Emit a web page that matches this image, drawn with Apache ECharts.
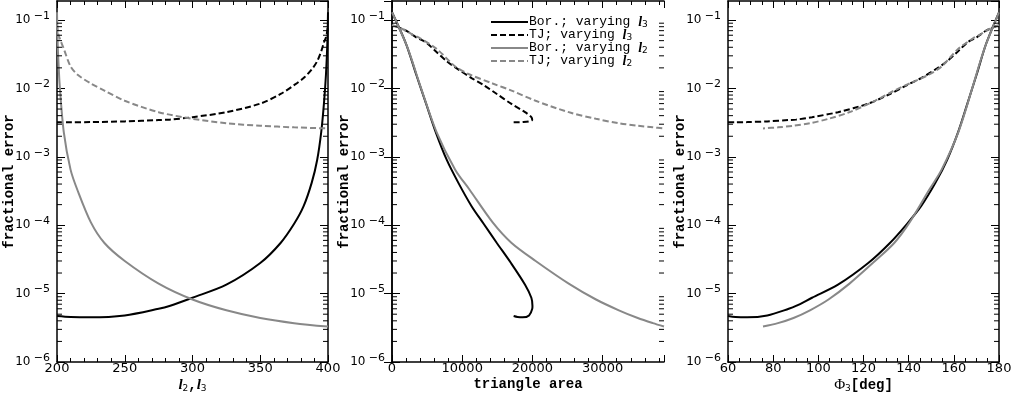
<!DOCTYPE html>
<html>
<head>
    <meta charset="utf-8">
    <title>fractional error</title>
    <script src="https://cdn.jsdelivr.net/npm/echarts@6/dist/echarts.min.js"></script>
    <style>
        * {
            margin: 0;
            padding: 0
        }

        html, body {
            width: 100%;
            height: 100%;
            background: #fff;
        }

        #main {
            width: 1014px;
            height: 396px;
        }
    </style>
</head>
<body>
<div id="main"></div>
<script type="text/javascript">
    /*-------------------- data: varying l3 (l1 = l2 = 200) --------------------*/
    var l3Vals = [200, 210, 225, 250, 275, 283, 300, 325, 350, 365, 375, 382, 388, 392, 395, 397, 398.5, 399.5, 400];
    var areaL3 = [17321, 17873, 18603, 19516, 19970, 20000, 19843, 18946, 16941, 14930, 13049, 11330, 9432, 7801, 6226, 4853, 3448, 1997, 0];
    var phiL3 = [60, 63.3, 68.5, 77.4, 86.9, 90.1, 97.2, 108.7, 122.1, 131.7, 139.3, 145.5, 151.9, 157.0, 161.9, 166.0, 170.1, 174.3, 180];
    var borL3 = [4.7e-6, 4.55e-6, 4.5e-6, 4.8e-6, 6e-6, 6.6e-6, 8.7e-6, 1.35e-5, 2.8e-5, 5.5e-5, 1.05e-4, 1.9e-4, 4.2e-4, 9e-4, 2.3e-3, 6e-3, 0.016, 0.045, 0.13];
    var tjL3 = [3.2e-3, 3.2e-3, 3.22e-3, 3.3e-3, 3.45e-3, 3.5e-3, 3.8e-3, 4.5e-3, 6.0e-3, 8.3e-3, 0.0112, 0.0142, 0.019, 0.025, 0.035, 0.047, 0.056, 0.07, 0.085];

    /*-------------------- data: varying l2 (l1 = 200, l3 = 400) --------------------*/
    var l2Vals = [200, 200.5, 201, 202, 205, 210, 215, 225, 235, 250, 275, 300, 325, 350, 375, 400];
    var areaL2 = [0, 2001, 2830, 4010, 6345, 8996, 11051, 14334, 17030, 20453, 25163, 29047, 32301, 34994, 37145, 38730];
    var phiL2 = [180, 174.3, 171.9, 168.5, 162.0, 154.6, 149.1, 140.4, 133.6, 125.1, 113.8, 104.5, 96.3, 89.0, 82.1, 75.5];
    var borL2 = [0.13, 0.045, 0.026, 0.011, 2.3e-3, 6.5e-4, 3.3e-4, 1.1e-4, 5.5e-5, 3e-5, 1.4e-5, 8.2e-6, 5.7e-6, 4.4e-6, 3.7e-6, 3.3e-6];
    var tjL2 = [0.085, 0.07, 0.062, 0.054, 0.038, 0.021, 0.016, 0.0118, 0.0093, 0.0066, 0.0045, 0.0036, 0.0031, 0.00285, 0.0027, 0.0026];

    var seriesNames = ['Bor.; varying l3', 'TJ; varying l3', 'Bor.; varying l2', 'TJ; varying l2'];

    // panels: x range, major / minor tick step
    var panels = [
        {x3: l3Vals, x2: l2Vals, min: 200, max: 400, major: 50, minor: 10, left: 57, width: 271},
        {x3: areaL3, x2: areaL2, min: 0, max: 38730, major: 10000, minor: 2000, left: 392, width: 272},
        {x3: phiL3, x2: phiL2, min: 60, max: 180, major: 20, minor: 5, left: 728, width: 271}
    ];
    var xNames = [
        '{i|l}{s|2}{m|,}{i|l}{s|3}',
        '{m|triangle area}',
        '{p|\u03a6}{s|3}{m|[deg]}'
    ];
    var yMin = 1e-6, yMax = 0.19;

    var monoFont = '"Liberation Mono", monospace';
    var labFont = '"DejaVu Sans", sans-serif';
    var nameRich = {
        m: {fontFamily: monoFont, fontWeight: 'bold', fontSize: 14, color: '#000'},
        i: {fontFamily: '"Liberation Serif", serif', fontStyle: 'italic', fontWeight: 'bold', fontSize: 15, color: '#000'},
        p: {fontFamily: '"Liberation Serif", serif', fontSize: 15, color: '#000'},
        s: {fontFamily: labFont, fontSize: 9, color: '#000', padding: [7, 0, 0, 0]}
    };

    // log minor ticks 2..9 per decade
    var yMinor = [];
    for (var e = -6; e <= -1; e++) {
        for (var k = 2; k <= 9; k++) {
            var v = k * Math.pow(10, e);
            if (v < yMax) yMinor.push(v);
        }
    }

    function pairs(xs, ys) {
        return xs.map(function (x, i) {
            return [x, ys[i]];
        });
    }

    // draws all log minor ticks of one panel, on its left and right frame
    function minorTicks(p) {
        return function (params, api) {
            var kids = [];
            yMinor.forEach(function (v) {
                var a = api.coord([p.min, v]);
                var b = api.coord([p.max, v]);
                kids.push({type: 'line', shape: {x1: a[0], y1: a[1], x2: a[0] + 5, y2: a[1]}, style: {stroke: '#000', lineWidth: 1}});
                kids.push({type: 'line', shape: {x1: b[0], y1: b[1], x2: b[0] - 5, y2: b[1]}, style: {stroke: '#000', lineWidth: 1}});
            });
            return {type: 'group', children: kids};
        };
    }

    var grids = [], xAxes = [], yAxes = [], series = [];

    panels.forEach(function (p, g) {
        grids.push({left: p.left, top: 1, width: p.width, height: 361, containLabel: false, outerBoundsMode: 'none'});

        var base = {gridIndex: g, type: 'value', min: p.min, max: p.max, splitLine: {show: false}};
        // bottom major (labels)
        xAxes.push(Object.assign({}, base, {
            position: 'bottom', interval: p.major,
            axisLine: {show: true, lineStyle: {color: '#000', width: 1.5}},
            axisTick: {inside: true, length: 7, lineStyle: {color: '#000', width: 1}},
            axisLabel: {
                margin: 0, fontFamily: labFont, fontSize: 13, color: '#000',
                formatter: function (v) {
                    return (v % p.major === 0) ? String(v) : '';
                }
            },
            name: xNames[g], nameLocation: 'middle', nameGap: 15, nameMoveOverlap: false,
            nameTextStyle: {rich: nameRich}
        }));
        // bottom minor
        xAxes.push(Object.assign({}, base, {
            position: 'bottom', interval: p.minor,
            axisLine: {show: false},
            axisTick: {inside: true, length: 4, lineStyle: {color: '#000', width: 1}},
            axisLabel: {show: false}
        }));
        // top major
        xAxes.push(Object.assign({}, base, {
            position: 'top', interval: p.major,
            axisLine: {show: true, lineStyle: {color: '#000', width: 1.5}},
            axisTick: {inside: true, length: 7, lineStyle: {color: '#000', width: 1}},
            axisLabel: {show: false}
        }));
        // top minor
        xAxes.push(Object.assign({}, base, {
            position: 'top', interval: p.minor,
            axisLine: {show: false},
            axisTick: {inside: true, length: 4, lineStyle: {color: '#000', width: 1}},
            axisLabel: {show: false}
        }));

        var yBase = {gridIndex: g, type: 'log', logBase: 10, min: yMin, max: yMax, splitLine: {show: false}};
        yAxes.push(Object.assign({}, yBase, {
            position: 'left',
            axisLine: {show: true, lineStyle: {color: '#000', width: 1.5}},
            axisTick: {inside: true, length: 8, lineStyle: {color: '#000', width: 1}},
            axisLabel: {
                margin: 7, showMaxLabel: false,
                formatter: function (v) {
                    var ex = Math.log10(v);
                    if (Math.abs(ex - Math.round(ex)) > 1e-6) return '';
                    return '{b|10} {e|\u2212' + Math.abs(Math.round(ex)) + '}';
                },
                rich: {
                    b: {fontFamily: labFont, fontSize: 12, color: '#000'},
                    e: {fontFamily: labFont, fontSize: 11, color: '#000', padding: [0, 0, 8, 0]}
                }
            },
            name: 'fractional error', nameLocation: 'middle', nameGap: 41, nameMoveOverlap: false,
            nameTextStyle: {fontFamily: monoFont, fontWeight: 'bold', fontSize: 14, color: '#000'}
        }));
        yAxes.push(Object.assign({}, yBase, {
            position: 'right',
            axisLine: {show: true, lineStyle: {color: '#000', width: 1.5}},
            axisTick: {inside: true, length: 8, lineStyle: {color: '#000', width: 1}},
            axisLabel: {show: false}
        }));

        var xi = 4 * g, yi = 2 * g;
        var lines = [
            {name: seriesNames[0], data: pairs(p.x3, borL3), color: '#000', type: 'solid'},
            {name: seriesNames[1], data: pairs(p.x3, tjL3), color: '#000', type: [6, 3]},
            {name: seriesNames[2], data: pairs(p.x2, borL2), color: '#888', type: 'solid'},
            {name: seriesNames[3], data: pairs(p.x2, tjL2), color: '#888', type: [6, 3]}
        ];
        lines.forEach(function (l) {
            series.push({
                name: l.name, type: 'line', xAxisIndex: xi, yAxisIndex: yi,
                data: l.data, symbol: 'none', smooth: 0.3, silent: true,
                itemStyle: {color: l.color},
                lineStyle: {color: l.color, width: 2, type: l.type}
            });
        });

        // minor log ticks on left and right frame
        series.push({
            type: 'custom', xAxisIndex: xi, yAxisIndex: yi, silent: true, z: 5, clip: false,
            data: [[p.min, 1e-3]],
            renderItem: minorTicks(p)
        });
    });

    var chart = echarts.init(document.getElementById('main'), null, {renderer: 'canvas'});
    chart.setOption({
        animation: false,
        backgroundColor: '#fff',
        grid: grids,
        xAxis: xAxes,
        yAxis: yAxes,
        legend: {
            data: seriesNames,
            orient: 'vertical',
            left: 485, top: 10,
            itemWidth: 37, itemHeight: 10, itemGap: -1,
            selectedMode: false,
            itemStyle: {opacity: 0},
            formatter: function (n) {
                return n.replace(/l(\d)$/, '{i|l}{s|$1}');
            },
            textStyle: {
                fontFamily: monoFont, fontSize: 13, color: '#000', lineHeight: 13,
                padding: [0, 0, 0, -4],
                rich: {
                    i: {fontFamily: '"Liberation Serif", serif', fontStyle: 'italic', fontWeight: 'bold', fontSize: 14, color: '#000'},
                    s: {fontFamily: labFont, fontSize: 9, color: '#000', padding: [5, 0, 0, 0]}
                }
            }
        },
        series: series
    });
</script>
</body>
</html>
